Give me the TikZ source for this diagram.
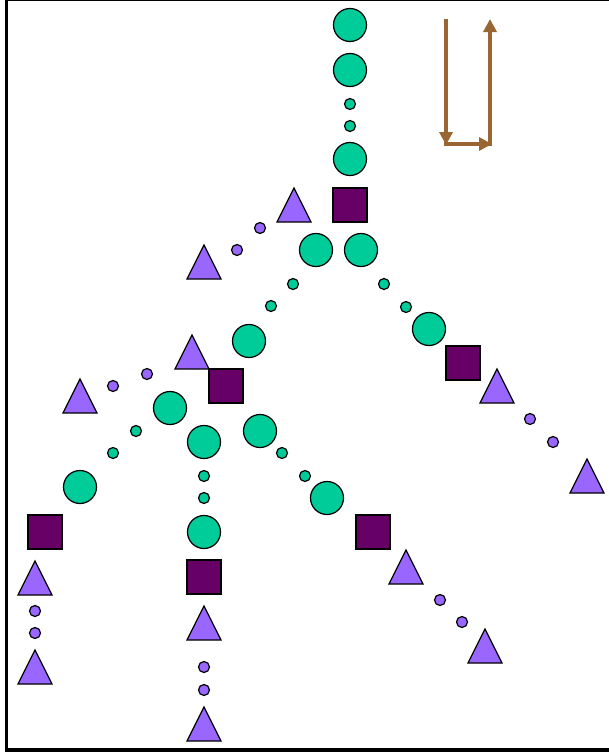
\documentclass[tikz,border=0pt]{standalone}
\usetikzlibrary{arrows.meta}
\definecolor{gcol}{HTML}{00CC99}
\definecolor{pcol}{HTML}{9966FF}
\definecolor{scol}{HTML}{660066}
\definecolor{brn}{HTML}{996633}
\tikzset{
  bigc/.style={circle,draw=black,line width=1.2pt,fill=gcol,minimum size=33pt,inner sep=0pt},
  smallg/.style={circle,draw=black,line width=1.2pt,fill=gcol,minimum size=11pt,inner sep=0pt},
  smallp/.style={circle,draw=black,line width=1.2pt,fill=pcol,minimum size=11pt,inner sep=0pt},
  sq/.style={rectangle,draw=black,line width=1.2pt,fill=scol,minimum size=34pt,inner sep=0pt},
  tri/.pic={\draw[fill=pcol,line width=1.2pt,line join=miter] (-17,17) -- (0,-17) -- (17,17) -- cycle; \coordinate (-c) at (0,0);},
  arr/.style={draw=brn,line width=4pt,-{Triangle[length=13pt,width=13pt]}},
  frameline/.style={draw=black}
}
\begin{document}
\begin{tikzpicture}[x=1pt,y=-1pt]
\useasboundingbox (0,0) rectangle (609,755);
% frame
\coordinate (f1) at (6.5,0);
\coordinate (f2) at (609,0);
\coordinate (f3) at (6.5,752);
\coordinate (f4) at (5,750);
\coordinate (f5) at (609,750);
\draw[frameline,line width=2pt] (f1) -- (f2);
\draw[frameline,line width=3pt] (f1) -- (f3);
\draw[frameline,line width=4pt] (f4) -- (f5);
% arrows
\coordinate (a0) at (446,19);
\coordinate (a1) at (446,145);
\coordinate (a2) at (444,144);
\coordinate (a3) at (492,144);
\coordinate (a4) at (490,146);
\coordinate (a5) at (490,19);
\draw[arr] (a0) -- (a1);
\draw[arr] (a2) -- (a3);
\draw[arr] (a4) -- (a5);
% trunk
\node[bigc] (g1) at (350,25) {};
\node[bigc] (g2) at (350,70) {};
\node[smallg] (s1) at (350,104) {};
\node[smallg] (s2) at (350,126) {};
\node[bigc] (g3) at (350,159) {};
\node[sq] (q1) at (350,205) {};
\pic (t1) at (294,205) {tri};
\node[smallp] (p1) at (260,228) {};
\node[smallp] (p2) at (237,250) {};
\pic (t2) at (204,262) {tri};
\node[bigc] (g4) at (316,250) {};
\node[bigc] (g5) at (361,250) {};
% right branch
\node[smallg] (s3) at (384,284) {};
\node[smallg] (s4) at (406,307) {};
\node[bigc] (g6) at (429,329) {};
\node[sq] (q2) at (463,363) {};
\pic (t3) at (497,386) {tri};
\node[smallp] (p3) at (530,419) {};
\node[smallp] (p4) at (553,442) {};
\pic (t4) at (587,476) {tri};
% left branch
\node[smallg] (s5) at (293,284) {};
\node[smallg] (s6) at (271,306) {};
\node[bigc] (g7) at (249,341) {};
\pic (t5) at (192,352) {tri};
\node[sq] (q3) at (226,386) {};
\node[smallp] (p5) at (147,374) {};
\node[smallp] (p6) at (113,386) {};
\pic (t6) at (80,396) {tri};
\node[bigc] (g8) at (170,408) {};
\node[bigc] (g9) at (204,442) {};
\node[bigc] (g10) at (260,431) {};
% far left
\node[smallg] (s7) at (136,431) {};
\node[smallg] (s8) at (113,453) {};
\node[bigc] (g11) at (80,487) {};
\node[sq] (q4) at (45,532) {};
\pic (t7) at (35,578) {tri};
\node[smallp] (p7) at (35,611) {};
\node[smallp] (p8) at (35,633) {};
\pic (t8) at (35,667) {tri};
% middle column
\node[smallg] (s9) at (204,476) {};
\node[smallg] (s10) at (204,498) {};
\node[bigc] (g12) at (204,532) {};
\node[sq] (q5) at (204,577) {};
\pic (t9) at (204,623) {tri};
\node[smallp] (p9) at (204,667) {};
\node[smallp] (p10) at (204,690) {};
\pic (t10) at (204,724) {tri};
% right-middle
\node[smallg] (s11) at (282,453) {};
\node[smallg] (s12) at (305,476) {};
\node[bigc] (g13) at (327,498) {};
\node[sq] (q6) at (373,532) {};
\pic (t11) at (406,567) {tri};
\node[smallp] (p11) at (440,600) {};
\node[smallp] (p12) at (462,622) {};
\pic (t12) at (485,646) {tri};
\end{tikzpicture}
\end{document}
